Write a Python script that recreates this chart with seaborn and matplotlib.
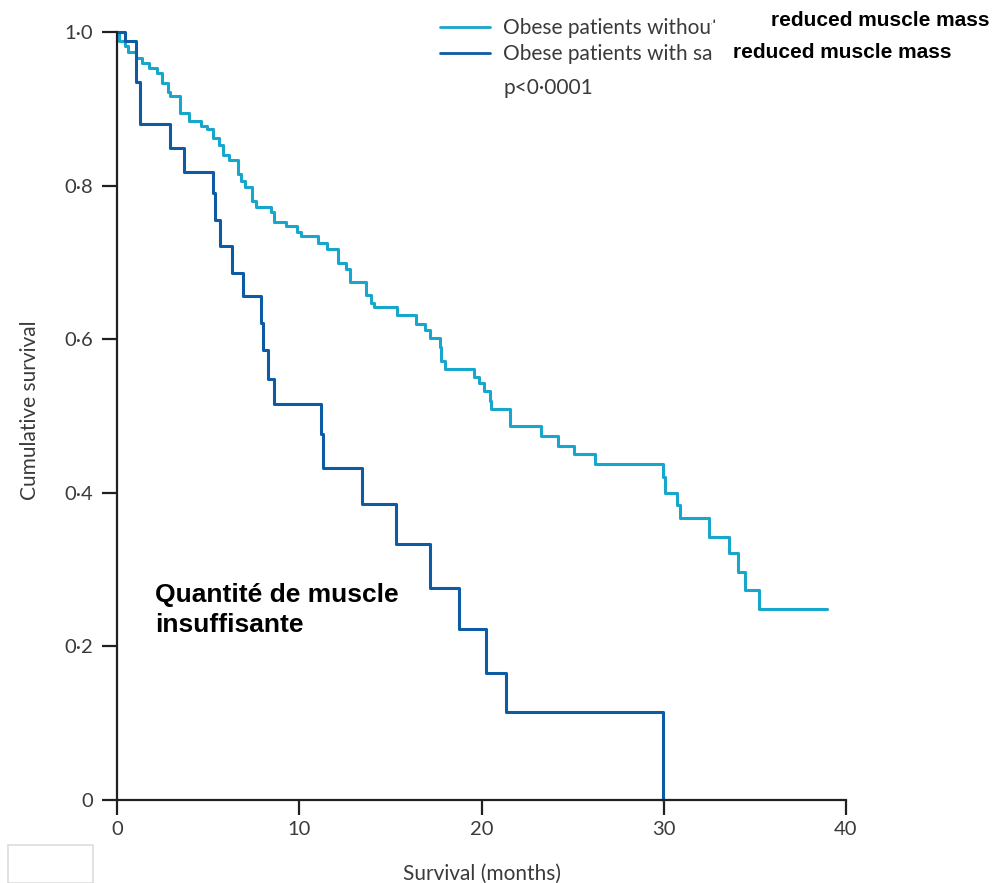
import matplotlib; matplotlib.use("Agg")
import numpy as np
import pandas as pd
import matplotlib.pyplot as plt
import seaborn as sns
from matplotlib.patches import Rectangle

# Kaplan-Meier steps (time in months, survival after each drop)
t_without = [0, 0.13, 0.44, 0.6, 1.04, 1.35, 1.76, 2.2, 2.47, 2.78,
             2.9, 3.46, 3.95, 4.6, 4.92, 5.25, 5.6, 5.82, 6.15, 6.64,
             6.8, 7.03, 7.41, 7.6, 8.43, 8.61, 9.27, 9.86, 10.1, 11.05,
             11.5, 12.15, 12.57, 12.8, 13.65, 13.93, 14.1, 15.35, 16.4, 16.9,
             17.19, 17.7, 17.77, 18.0, 19.6, 19.84, 20.11, 20.44, 20.53, 21.58,
             23.28, 24.2, 25.06, 26.25, 29.94, 30.05, 30.73, 30.9, 32.46, 33.6,
             34.07, 34.44, 35.23, 38.96]
s_without = [1.0, 0.988, 0.982, 0.974, 0.966, 0.96, 0.953, 0.947, 0.934, 0.922,
             0.917, 0.895, 0.884, 0.878, 0.874, 0.862, 0.853, 0.840, 0.833, 0.815,
             0.806, 0.798, 0.780, 0.772, 0.766, 0.752, 0.747, 0.739, 0.734, 0.725,
             0.717, 0.699, 0.691, 0.674, 0.657, 0.647, 0.642, 0.631, 0.620, 0.612,
             0.601, 0.590, 0.572, 0.561, 0.551, 0.543, 0.532, 0.520, 0.509, 0.487,
             0.474, 0.461, 0.450, 0.437, 0.421, 0.400, 0.384, 0.367, 0.342, 0.321,
             0.297, 0.274, 0.249, 0.249]
t_with = [0, 0.45, 1.02, 1.26, 2.9, 3.68, 5.25, 5.38, 5.65, 6.3,
          6.93, 7.88, 8.0, 8.3, 8.63, 11.17, 11.28, 13.43, 15.3, 17.17,
          18.77, 20.23, 21.35, 29.94]
s_with = [1.0, 0.988, 0.935, 0.88, 0.849, 0.818, 0.79, 0.755, 0.721, 0.686,
          0.656, 0.621, 0.586, 0.548, 0.516, 0.477, 0.432, 0.385, 0.333, 0.276,
          0.223, 0.165, 0.114, 0.0]

labels = ["Obese patients without sarcopenia", "Obese patients with sarcopenia"]
colors = ["#17A6CC", "#0D5AA5"]
x_ticks = [0, 10, 20, 30, 40]
y_ticks = [0, 0.2, 0.4, 0.6, 0.8, 1.0]
y_ticklabels = ["0", "0·2", "0·4", "0·6", "0·8", "1·0"]

sns.set_style("ticks")
plt.rcParams["font.family"] = ["Lato", "DejaVu Sans"]
INK = "#231F20"
TXT = "#3A3A3A"

df = pd.concat([
    pd.DataFrame({"time": t_without, "surv": s_without, "group": labels[0]}),
    pd.DataFrame({"time": t_with, "surv": s_with, "group": labels[1]}),
])

W, H = 997, 883
fig = plt.figure(figsize=(W / 100, H / 100), dpi=100)
ax = fig.add_axes([117 / W, 1 - 800 / H, 729 / W, 768 / H])

sns.lineplot(data=df, x="time", y="surv", hue="group", hue_order=labels,
             palette=colors, drawstyle="steps-post", estimator=None,
             sort=False, linewidth=2.2, ax=ax, legend=False)
for ln in ax.lines:
    ln.set_clip_on(False)

ax.set_xlim(0, 40); ax.set_ylim(0, 1)
ax.set_xticks(x_ticks); ax.set_xticklabels([str(v) for v in x_ticks])
ax.set_yticks(y_ticks); ax.set_yticklabels(y_ticklabels)
sns.despine(ax=ax)
for sp in ("left", "bottom"):
    ax.spines[sp].set_color(INK); ax.spines[sp].set_linewidth(1.6)
ax.tick_params(axis="both", length=11, width=1.6, color=INK,
               labelsize=14.5, labelcolor=TXT)
ax.tick_params(axis="y", pad=6)
ax.tick_params(axis="x", pad=4)

ax.set_xlabel("Survival (months)", fontsize=15, color=TXT)
ax.set_ylabel("Cumulative survival", fontsize=15, color=TXT)
ax.xaxis.set_label_coords(0.5, -0.083)
ax.yaxis.set_label_coords(-0.105, 0.508)

# legend
handles = [plt.Line2D([], [], color=c, lw=2.0) for c in colors]
leg = fig.legend(handles, labels, loc="upper left",
                 bbox_to_anchor=(440 / W, 1 - 18 / H), frameon=False,
                 fontsize=15, labelcolor=TXT, handlelength=2.4, handletextpad=0.6,
                 borderpad=0, borderaxespad=0, labelspacing=0.28)
leg.set_zorder(2)
fig.text(503 / W, 1 - 88 / H, "p<0·0001", fontsize=15, color=TXT,
         va="center", ha="left")

# pasted-over label patches
fig.patches.append(Rectangle((712 / W, 1 - 66 / H), (W - 712) / W, 43 / H,
                             transform=fig.transFigure, color="white", zorder=8))
fig.patches.append(Rectangle((735 / W, 1 - 24 / H), (W - 735) / W, 24 / H,
                             transform=fig.transFigure, color="white", zorder=8))
bold = dict(family=["Liberation Sans", "DejaVu Sans"], fontweight="bold",
            color="black", va="center", ha="left", zorder=9)
fig.text(771 / W, 1 - 21 / H, "reduced muscle mass", fontsize=15, **bold)
fig.text(733 / W, 1 - 52 / H, "reduced muscle mass", fontsize=15, **bold)
fig.text(155 / W, 1 - 610 / H, "Quantité de muscle\ninsuffisante",
         fontsize=19, linespacing=1.3, **bold)

# faint box in the lower-left corner
fig.patches.append(Rectangle((8 / W, 0), 85 / W, 38 / H, transform=fig.transFigure,
                             facecolor="white", edgecolor="#DDDDDD", lw=1.2))

fig.savefig("out.png", dpi=100)
